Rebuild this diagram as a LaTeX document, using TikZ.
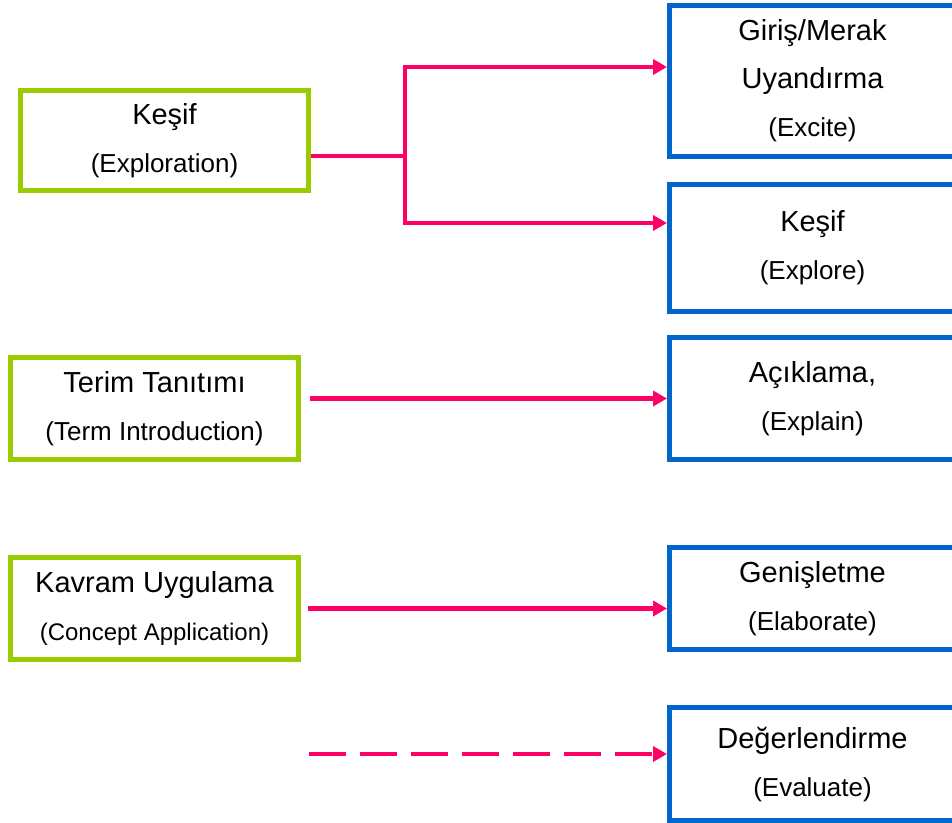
\documentclass[tikz,border=0pt]{standalone}
\usepackage{fontspec}
\setmainfont{Liberation Sans}
\usepackage{xcolor}
\usetikzlibrary{arrows.meta,positioning}

\definecolor{leaf}{RGB}{153,204,0}
\definecolor{sea}{RGB}{0,102,204}
\definecolor{rose}{RGB}{255,0,102}
\newcommand{\sublbl}[1]{{\fontsize{13}{24}\selectfont #1}}

\begin{document}
\begin{tikzpicture}[
    x=0.5pt, y=-0.5pt,
    >={Triangle[length=7pt,width=7.5pt]},
    every node/.style={font=\fontsize{14.5}{24}\selectfont},
    phase/.style={draw=leaf, line width=2.5pt, minimum width=144pt, inner sep=0pt, align=center},
    stage/.style={draw=sea, line width=2.5pt, minimum width=143pt, inner sep=0pt, align=center},
    arr/.style={->, line width=2.2pt, draw=rose},
  ]
    \useasboundingbox (0,0) rectangle (952,823);

    % --- Left column: lesson phases ---
    \node[phase, minimum height=50pt] (explor)  at (164.5,140.5) {Keşif\\\sublbl{(Exploration)}};
    \node[phase, minimum height=51pt] (term)    at (154.5,408.5) {Terim Tanıtımı\\\sublbl{(Term Introduction)}};
    \node[phase, minimum height=51pt] (concept) at (154.5,608.5) {Kavram Uygulama\\{\fontsize{12}{24}\selectfont (Concept Application)}};

    % --- Right column: 5E stages ---
    \node[stage, minimum height=75.5pt] (excite) at (812.5,81) {Giriş/Merak\\Uyandırma\\\sublbl{(Excite)}};
    \node[stage, minimum height=63.5pt, below=11.5pt of excite]  (explore)   {Keşif\\\sublbl{(Explore)}};
    \node[stage, minimum height=61pt,   below=10.5pt of explore] (explain)   {Açıklama,\\\sublbl{(Explain)}};
    \node[stage, minimum height=51pt,   below=41.5pt of explain] (elaborate) {Genişletme\\\sublbl{(Elaborate)}};
    \node[stage, minimum height=56.5pt, below=26.5pt of elaborate] (evaluate) {Değerlendirme\\\sublbl{(Evaluate)}};

    % --- Arrows ---
    \coordinate (fork) at (405,156);
    \draw[arr, -] (explor.east |- fork) -- (fork);
    \draw[arr] (fork) |- ([yshift=7pt]excite.west);
    \draw[arr] (fork) |- ([yshift=12.5pt]explore.west);
    \draw[arr] ([xshift=4.5pt]term.east |- explain.west) -- (explain.west);
    \draw[arr] ([xshift=3.5pt]concept.east) -- (concept.east -| elaborate.west);

    \coordinate (evalstart) at (309,754);
    \draw[arr, dash pattern=on 18.5pt off 7pt] (evalstart) -- (evalstart -| evaluate.west);
\end{tikzpicture}
\end{document}
